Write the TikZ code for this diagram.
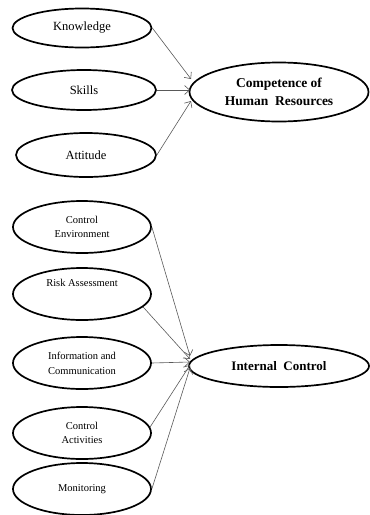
\documentclass[tikz,border=0pt]{standalone}
\usepackage{fontspec}
\setmainfont{Liberation Serif}
\usetikzlibrary{shapes.geometric,arrows.meta}
\begin{document}
\begin{tikzpicture}[x=1pt,y=-1pt,
  oval/.style={draw,ellipse,line width=1.7pt,inner sep=0pt,align=center},
  small/.style={oval,minimum width=138pt,minimum height=52pt,font=\fontsize{10.5}{14}\selectfont},
  big/.style={oval,font=\fontsize{12.5}{16}\selectfont},
  link/.style={draw=black!65,line width=0.6pt,-{Straight Barb[length=5pt,width=9pt]}}]
\useasboundingbox (0,0) rectangle (370,515);
% top group
\node[big,minimum width=139pt,minimum height=39pt] (kn) at (82,28) {Knowledge};
\node[big,minimum width=144pt,minimum height=40pt] (sk) at (84,90) {Skills};
\node[big,minimum width=140pt,minimum height=44pt] (at) at (86,155) {Attitude};
\node[oval,minimum width=179pt,minimum height=59pt,font=\fontsize{13.5}{18}\bfseries] (comp) at (279,92) {Competence of\\Human\hspace{0.5em}Resources};
\coordinate (ck) at (191,79);
\coordinate (cs) at (190,90);
\coordinate (ca) at (191,101);
\draw[link] (kn.east) -- (ck);
\draw[link] (sk.east) -- (cs);
\draw[link] (at.east) -- (ca);
% bottom group
\node[small] (ce) at (82,227) {Control\\Environment};
\node[small] (ra) at (82,294) {Risk Assessment\\[8pt]\mbox{}};
\node[small,font=\fontsize{10.5}{15}\selectfont] (ic) at (82,363) {Information and\\Communication};
\node[small] (ca2) at (82,433) {Control\\Activities};
\node[small] (mo) at (82,489) {Monitoring};
\node[oval,minimum width=180pt,minimum height=42pt,font=\fontsize{13}{16}\bfseries] (int) at (279,366) {Internal\hspace{0.5em}Control};
\coordinate (i1) at (190,356);
\coordinate (i2) at (190,359);
\coordinate (i3) at (190,362);
\coordinate (i4) at (190,365);
\coordinate (i5) at (190,368);
\draw[link] (ce.east) -- (i1);
\draw[link] (ra.-12) -- (i2);
\draw[link] (ic.east) -- (i3);
\draw[link] (ca2.5) -- (i4);
\draw[link] (mo.east) -- (i5);
\end{tikzpicture}
\end{document}
